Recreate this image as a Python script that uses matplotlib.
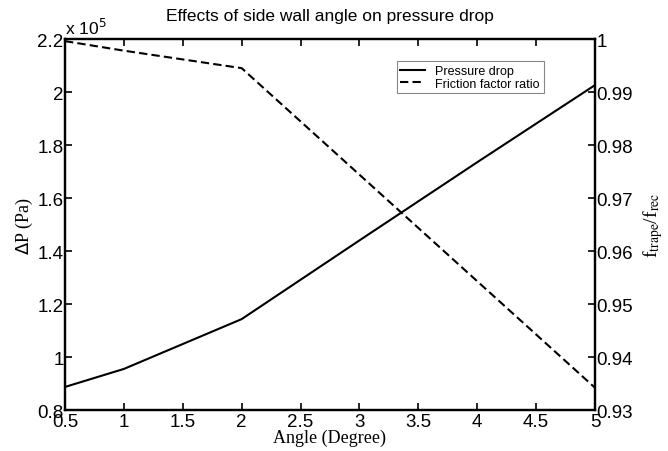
import matplotlib.pyplot as plt
from matplotlib.ticker import FormatStrFormatter

# data
angle = [0.5, 1, 2, 3, 4, 5]
pressure_drop = [0.887, 0.955, 1.143, 1.44, 1.735, 2.026]  # x 10^5 Pa
friction_ratio = [0.9996, 0.9978, 0.9945, 0.9744, 0.9543, 0.9342]

x_ticks = [0.5, 1, 1.5, 2, 2.5, 3, 3.5, 4, 4.5, 5]
left_ticks = [0.8, 1, 1.2, 1.4, 1.6, 1.8, 2, 2.2]
right_ticks = [0.93, 0.94, 0.95, 0.96, 0.97, 0.98, 0.99, 1]

sans = ['Liberation Sans', 'DejaVu Sans']
serif = ['Liberation Serif', 'DejaVu Serif']

fig = plt.figure(figsize=(6.68, 4.52), dpi=100)
ax = fig.add_axes([0.0973, 0.0907, 0.7934, 0.8208])
ax2 = ax.twinx()

l1, = ax.plot(angle, pressure_drop, color='black', lw=1.5, label='Pressure drop')
l2, = ax2.plot(angle, friction_ratio, color='black', lw=1.5, ls=(0, (4, 2)),
               label='Friction factor ratio')

ax.set_xlim(0.5, 5)
ax.set_ylim(0.8, 2.2)
ax2.set_ylim(0.93, 1.0)
ax.set_xticks(x_ticks)
ax.set_yticks(left_ticks)
ax2.set_yticks(right_ticks)
ax.xaxis.set_major_formatter(FormatStrFormatter('%g'))
ax.yaxis.set_major_formatter(FormatStrFormatter('%g'))
ax2.yaxis.set_major_formatter(FormatStrFormatter('%g'))

ax.tick_params(axis='x', direction='in', top=True, length=5, width=1.2,
               pad=2, labelsize=13.5)
ax.tick_params(axis='y', direction='in', length=5, width=1.2, pad=1,
               labelsize=13.5)
ax2.tick_params(axis='y', direction='in', length=5, width=1.2, pad=1,
                labelsize=13.5)
for a in (ax, ax2):
    for lab in a.get_xticklabels() + a.get_yticklabels():
        lab.set_family(sans)
    for s in a.spines.values():
        s.set_linewidth(1.6)

ax.text(0.0, 1.005, r'x 10$^5$', transform=ax.transAxes, fontsize=12.5,
        family=sans, ha='left', va='bottom')

ax.set_title('Effects of side wall angle on pressure drop', family=sans,
             fontsize=12.5, pad=14)
ax.set_xlabel('Angle (Degree)', family=serif, fontsize=13, labelpad=-1)
ax.set_ylabel(r'$\Delta$P (Pa)', family=serif, fontsize=13, labelpad=2)
ax2.set_ylabel(r'f$_{\rm trape}$/f$_{\rm rec}$', family=serif, fontsize=14,
               labelpad=6)
ax2.yaxis.label.set_math_fontfamily('stix')

leg = ax.legend(handles=[l1, l2], loc='upper right',
                bbox_to_anchor=(0.915, 0.957), fancybox=False,
                framealpha=1, edgecolor='#888888',
                prop={'family': sans, 'size': 9}, handlelength=2.0,
                borderpad=0.3, labelspacing=0.05)
leg.get_frame().set_linewidth(0.8)

fig.savefig('out.png', dpi=100)
